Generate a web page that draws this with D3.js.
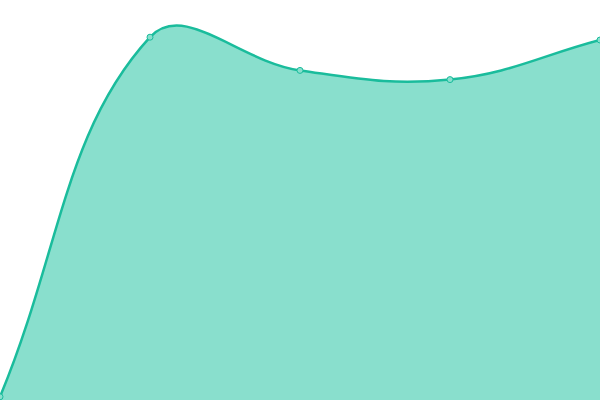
<!DOCTYPE html>
<html>
<head>
<meta charset="utf-8">
<script src="https://cdn.jsdelivr.net/npm/d3@7"></script>
<style>
  html, body { margin: 0; padding: 0; background: #fff; }
  svg { display: block; }
</style>
</head>
<body>
<svg class="chart"></svg>
<script>
  const categories = ["A", "B", "C", "D", "E"];
  const values = [0.8, 90.7, 82.4, 80.1, 90];

  const width = 600;
  const height = 400;

  // spline with distance-weighted control points (tension 0.4)
  function SplineCurve(context) {
    this._context = context;
  }
  SplineCurve.prototype = {
    areaStart() { this._line = 0; },
    areaEnd() { this._line = NaN; },
    lineStart() { this._pts = []; },
    lineEnd() {
      const p = this._pts;
      const ctx = this._context;
      const t = 0.4;
      const n = p.length;
      if (n) {
        const cps = p.map((cur, i) => {
          const prev = p[i - 1] || cur;
          const next = p[i + 1] || cur;
          const d01 = Math.hypot(cur[0] - prev[0], cur[1] - prev[1]);
          const d12 = Math.hypot(next[0] - cur[0], next[1] - cur[1]);
          let s01 = d01 / (d01 + d12);
          let s12 = d12 / (d01 + d12);
          if (isNaN(s01)) s01 = 0;
          if (isNaN(s12)) s12 = 0;
          const fa = t * s01, fb = t * s12;
          const clamp = (v) => Math.max(0, Math.min(height, v));
          return {
            px: cur[0] - fa * (next[0] - prev[0]),
            py: clamp(cur[1] - fa * (next[1] - prev[1])),
            nx: cur[0] + fb * (next[0] - prev[0]),
            ny: clamp(cur[1] + fb * (next[1] - prev[1])),
          };
        });
        if (this._line) ctx.lineTo(p[0][0], p[0][1]);
        else ctx.moveTo(p[0][0], p[0][1]);
        for (let i = 1; i < n; i++) {
          ctx.bezierCurveTo(cps[i - 1].nx, cps[i - 1].ny, cps[i].px, cps[i].py, p[i][0], p[i][1]);
        }
      }
      if (this._line || (this._line !== 0 && n === 1)) ctx.closePath();
      this._line = 1 - this._line;
    },
    point(x, y) { this._pts.push([+x, +y]); },
  };
  const curveSpline = (context) => new SplineCurve(context);

  const svg = d3.select(".chart").attr("width", width).attr("height", height);

  const x = d3.scalePoint().domain(categories).range([0, width]);
  const y = d3.scaleLinear().domain([0, 100]).range([height, 0]);

  const data = categories.map((c, i) => ({ cat: c, val: values[i] }));

  const area = d3
    .area()
    .x((d) => x(d.cat))
    .y0(height)
    .y1((d) => y(d.val))
    .curve(curveSpline);

  const line = d3
    .line()
    .x((d) => x(d.cat))
    .y((d) => y(d.val))
    .curve(curveSpline);

  svg.append("path").datum(data).attr("d", area).attr("fill", "#89dfcd");

  svg
    .append("path")
    .datum(data)
    .attr("d", line)
    .attr("fill", "none")
    .attr("stroke", "#1abc9c")
    .attr("stroke-width", 2.5);

  svg
    .selectAll("circle")
    .data(data)
    .enter()
    .append("circle")
    .attr("cx", (d) => x(d.cat))
    .attr("cy", (d) => y(d.val))
    .attr("r", 3)
    .attr("fill", "#89dfcd")
    .attr("stroke", "#1abc9c")
    .attr("stroke-width", 1);
</script>
</body>
</html>
